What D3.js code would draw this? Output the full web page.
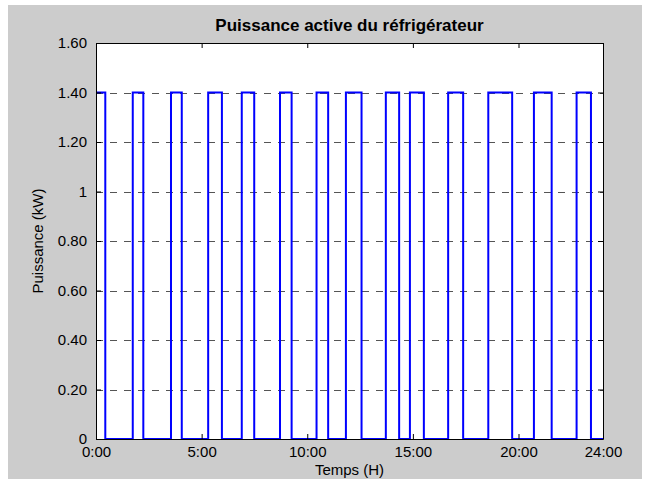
<!DOCTYPE html>
<html>
<head>
<meta charset="utf-8">
<script src="https://cdn.jsdelivr.net/npm/d3@7"></script>
<style>
  body { margin: 0; background: #fff; }
  text { font-family: "Liberation Sans", Arial, sans-serif; }
</style>
</head>
<body>
<div id="chart"></div>
<script>
// on/off switching times of the compressor (hours)
let onStarts = [0, 1.74, 3.55, 5.31, 6.90, 8.71, 10.44, 11.83, 13.72, 14.86, 16.67, 18.57, 20.73, 22.75];
let onEnds   = [0.44, 2.24, 4.06, 5.96, 7.49, 9.26, 10.99, 12.57, 14.35, 15.52, 17.38, 19.70, 21.57, 23.43];
let powerOn = 1.40;   // kW
let xTicks = [0, 5, 10, 15, 20, 24];
let xTickLabels = ["0:00", "5:00", "10:00", "15:00", "20:00", "24:00"];
let yTicks = [0, 0.2, 0.4, 0.6, 0.8, 1.0, 1.2, 1.4, 1.6];
let yTickLabels = ["0", "0.20", "0.40", "0.60", "0.80", "1", "1.20", "1.40", "1.60"];

let width = 652, height = 488;
let margin = {left: 96, right: 49, top: 43, bottom: 49};

let svg = d3.select("#chart").append("svg")
  .attr("width", width)
  .attr("height", height);

// grey figure background
svg.append("rect")
  .attr("x", 8).attr("y", 5)
  .attr("width", 634).attr("height", 474)
  .attr("fill", "#cccccc");

let x = d3.scaleLinear().domain([0, 24]).range([margin.left, width - margin.right]);
let y = d3.scaleLinear().domain([0, 1.6]).range([height - margin.bottom, margin.top]);

svg.append("rect")
  .attr("x", x(0)).attr("y", y(1.6))
  .attr("width", x(24) - x(0)).attr("height", y(0) - y(1.6))
  .attr("fill", "#fff");

// dashed horizontal grid
svg.append("g").selectAll("line").data(yTicks.slice(1, -1)).enter().append("line")
  .attr("x1", x(0)).attr("x2", x(24))
  .attr("y1", d => Math.round(y(d)) + 0.5).attr("y2", d => Math.round(y(d)) + 0.5)
  .attr("stroke", "#555").attr("stroke-width", 1)
  .attr("stroke-dasharray", "7,7");

// build the step signal
let pts = [];
onStarts.forEach(function(s, i){
  pts.push([s, 0]);
  pts.push([s, powerOn]);
  pts.push([onEnds[i], powerOn]);
  pts.push([onEnds[i], 0]);
});
pts.push([24, 0]);
pts = pts.slice(1); // first one starts on at t=0

let line = d3.line().x(d => x(d[0])).y(d => y(d[1]));

svg.append("path")
  .datum(pts)
  .attr("d", line)
  .attr("fill", "none")
  .attr("stroke", "#0000ff")
  .attr("stroke-width", 2);

// axes box with inward ticks (matlab style)
let xb = d3.axisBottom(x).tickValues(xTicks).tickSizeInner(-5).tickSizeOuter(0)
  .tickFormat((d, i) => xTickLabels[i]).tickPadding(7);
let xt = d3.axisTop(x).tickValues(xTicks).tickSizeInner(-5).tickSizeOuter(0).tickFormat("");
let yl = d3.axisLeft(y).tickValues(yTicks).tickSizeInner(-5).tickSizeOuter(0)
  .tickFormat((d, i) => yTickLabels[i]).tickPadding(9);
let yr = d3.axisRight(y).tickValues(yTicks).tickSizeInner(-5).tickSizeOuter(0).tickFormat("");

function style(g){
  g.selectAll("path").attr("stroke", "#000");
  g.selectAll("line").attr("stroke", "#000");
  g.selectAll("text").attr("fill", "#000").style("font-size", "15px")
    .style("font-family", "'Liberation Sans', Arial, sans-serif");
}

svg.append("g").attr("transform", "translate(0," + y(0) + ")").call(xb).call(style);
svg.append("g").attr("transform", "translate(0," + y(1.6) + ")").call(xt).call(style);
svg.append("g").attr("transform", "translate(" + x(0) + ",0)").call(yl).call(style);
svg.append("g").attr("transform", "translate(" + x(24) + ",0)").call(yr).call(style);

// title and labels
svg.append("text")
  .attr("x", (x(0) + x(24)) / 2).attr("y", 31)
  .attr("text-anchor", "middle")
  .style("font-size", "17px").style("font-weight", "bold")
  .text("Puissance active du réfrigérateur");

svg.append("text")
  .attr("x", (x(0) + x(24)) / 2).attr("y", 475)
  .attr("text-anchor", "middle")
  .style("font-size", "15px")
  .text("Temps (H)");

svg.append("text")
  .attr("transform", "translate(43," + (y(0) + y(1.6)) / 2 + ") rotate(-90)")
  .attr("text-anchor", "middle")
  .style("font-size", "15px")
  .text("Puissance (kW)");
</script>
</body>
</html>
